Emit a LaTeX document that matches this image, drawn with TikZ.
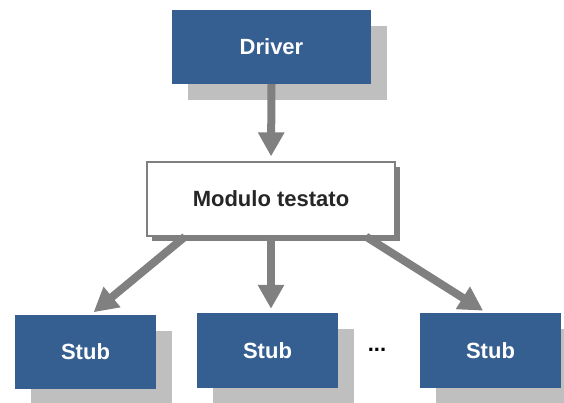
\documentclass[tikz,border=0pt]{standalone}
\usepackage{fontspec}
\setmainfont{Liberation Sans}
\usetikzlibrary{arrows.meta,shadows}
\definecolor{boxblue}{HTML}{365F91}
\definecolor{shadowgrey}{HTML}{BFBFBF}
\definecolor{darkshadow}{HTML}{7F7F7F}
\definecolor{arrowgrey}{HTML}{808080}
\definecolor{textdark}{HTML}{262626}
\begin{document}
\begin{tikzpicture}[x=1pt,y=-1pt,
  boxfont/.style={font=\fontsize{22}{26}\selectfont\bfseries},
  bluebox/.style={boxfont, fill=boxblue, text=white, inner sep=0pt,
    minimum width=141pt, minimum height=75pt,
    drop shadow={shadow xshift=16pt, shadow yshift=-16pt, fill=shadowgrey, opacity=1}},
  whitebox/.style={boxfont, fill=white, draw=darkshadow, line width=1.2pt, text=textdark,
    inner sep=0pt, minimum width=248pt, minimum height=74pt,
    drop shadow={shadow xshift=5pt, shadow yshift=-5pt, fill=darkshadow, opacity=1}},
  flow/.style={draw=arrowgrey, line width=8pt,
    -{Triangle[length=24pt,width=25pt]}, shorten >=4pt}
]
\useasboundingbox (0,0) rectangle (564,403);
\clip (0,0) rectangle (564,403);

% boxes
\node[bluebox, minimum width=199pt, minimum height=74pt] (driver) at (271.5,47) {Driver};
\node[whitebox] (mod) at (271,199) {Modulo testato};
\node[bluebox, minimum height=74pt] (stubA) at (85.5,352) {Stub};
\node[bluebox] (stubB) at (267.5,350.5) {Stub};
\node[bluebox] (stubC) at (490.5,350.5) {Stub};
\node[boxfont, text=black, inner sep=0pt] (dots) at (377,350) {...};

% connectors
\draw[flow, shorten >=5pt] (driver.south) -- (mod.north);
\draw[flow] ([xshift=-86pt]mod.south) -- ([xshift=5pt]stubA.north);
\draw[flow] (mod.south) -- (mod.south |- stubB.north);
\draw[flow] ([xshift=95pt]mod.south) -- ([xshift=-4pt]stubC.north);
\end{tikzpicture}
\end{document}
